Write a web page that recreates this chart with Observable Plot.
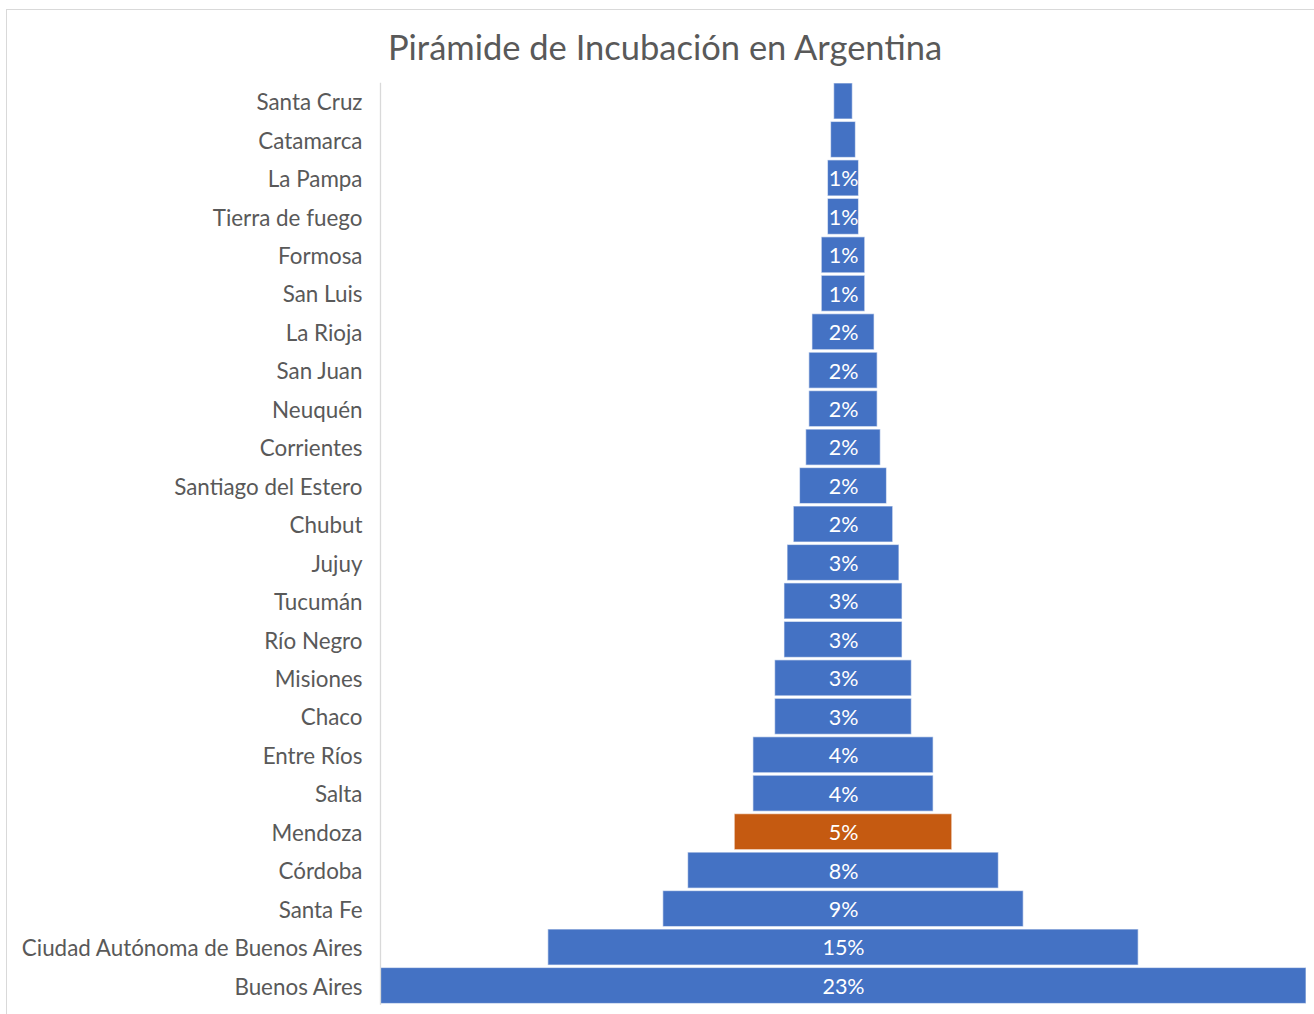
<!DOCTYPE html>
<html>
<head>
<meta charset="utf-8">
<script src="https://cdn.jsdelivr.net/npm/d3@7"></script>
<script src="https://cdn.jsdelivr.net/npm/@observablehq/plot@0.6"></script>
<style>
  html, body { margin: 0; padding: 0; background: #fff; }
  #wrap { position: relative; width: 1314px; height: 1014px; overflow: hidden; font-family: Lato, "Open Sans", sans-serif; }
  #border { position: absolute; left: 6px; top: 9px; width: 1400px; height: 1100px; border: 1px solid #d9d9d9; box-sizing: border-box; }
  #title { position: absolute; left: 0; top: 26px; width: 1330px; text-align: center; font-size: 34.5px; color: #595959; font-family: Lato, "Open Sans", sans-serif; }
  #chart { position: absolute; left: 0; top: 0; }
</style>
</head>
<body>
<div id="wrap">
  <div id="border"></div>
  <div id="title">Pirámide de Incubación en Argentina</div>
  <div id="chart"></div>
</div>
<script>
const provinces = ["Santa Cruz", "Catamarca", "La Pampa", "Tierra de fuego", "Formosa", "San Luis", "La Rioja", "San Juan", "Neuquén", "Corrientes", "Santiago del Estero", "Chubut", "Jujuy", "Tucumán", "Río Negro", "Misiones", "Chaco", "Entre Ríos", "Salta", "Mendoza", "Córdoba", "Santa Fe", "Ciudad Autónoma de Buenos Aires", "Buenos Aires"];
const values = [3, 4, 5, 5, 7, 7, 10, 11, 11, 12, 14, 16, 18, 19, 19, 22, 22, 29, 29, 35, 50, 58, 95, 149];
const labels = ["", "", "1%", "1%", "1%", "1%", "2%", "2%", "2%", "2%", "2%", "2%", "3%", "3%", "3%", "3%", "3%", "4%", "4%", "5%", "8%", "9%", "15%", "23%"];
const highlight = "Mendoza";

const data = provinces.map((p, i) => ({province: p, value: values[i], label: labels[i]}));
const maxV = d3.max(values);

const chart = Plot.plot({
  width: 1314,
  height: 1014,
  marginLeft: 380,
  marginRight: 8,
  marginTop: 83,
  marginBottom: 10.5,
  style: {fontFamily: "Lato, 'Open Sans', sans-serif", color: "#595959", background: "transparent"},
  x: {domain: [-maxV / 2, maxV / 2], axis: null},
  y: {domain: provinces, paddingInner: 0.064, paddingOuter: 0, round: false, label: null},
  marks: [
    Plot.barX(data, {
      y: "province",
      x1: d => -d.value / 2,
      x2: d => d.value / 2,
      fill: d => d.province === highlight ? "#C55A11" : "#4472C4",
      stroke: "#ffffff",
      strokeOpacity: 0.55,
      strokeWidth: 1.2
    }),
    Plot.text(data, {
      y: "province",
      x: 0,
      dy: 1,
      text: "label",
      fill: "white",
      fontSize: 21.5
    }),
    Plot.frame({anchor: "left", stroke: "#d9d9d9", strokeWidth: 1.3}),
    Plot.axisY({tickSize: 0, tickPadding: 18, dy: 1.5, fontSize: 22.4, label: null, fill: "#595959"})
  ]
});
document.getElementById("chart").appendChild(chart);
</script>
</body>
</html>
